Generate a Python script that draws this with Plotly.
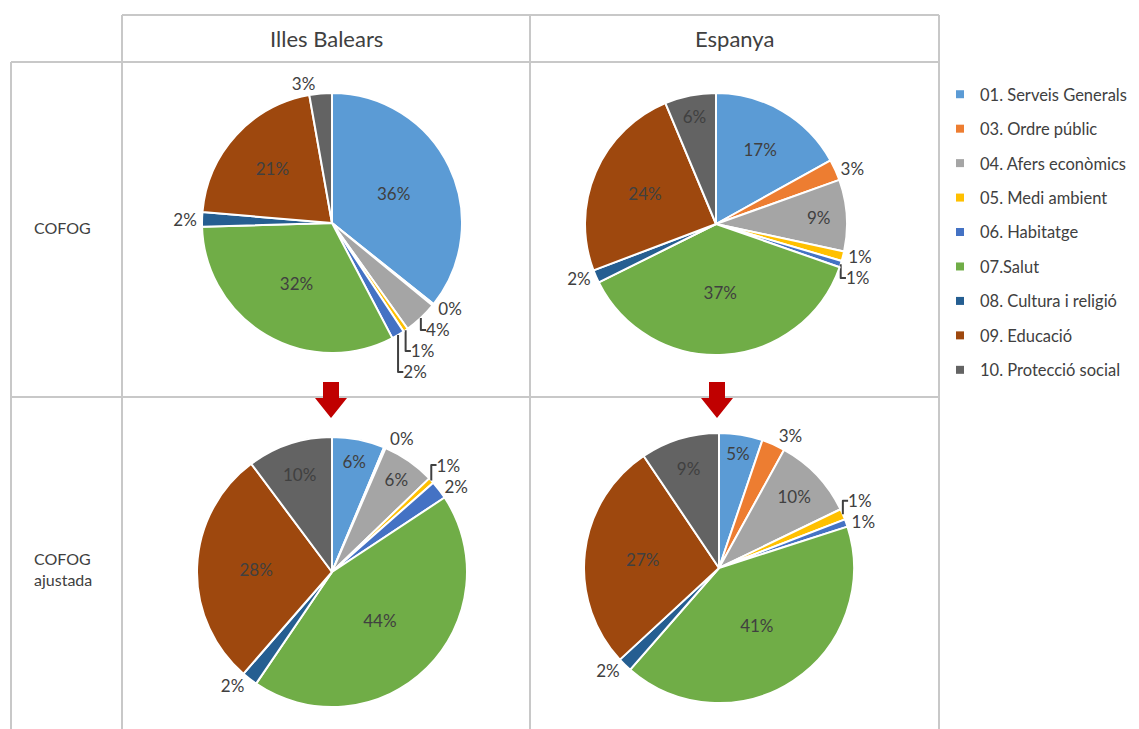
import plotly.graph_objects as go

# the page body adds an 8px margin, so the figure is drawn 8px in
OFF = 8
W, H = 1139 - OFF, 729 - OFF

categories = ["01. Serveis Generals", "03. Ordre públic", "04. Afers econòmics",
              "05. Medi ambient", "06. Habitatge", "07.Salut",
              "08. Cultura i religió", "09. Educació", "10. Protecció social"]
colors = ["#5B9BD5", "#ED7D31", "#A5A5A5", "#FFC000", "#4472C4",
          "#70AD47", "#255E91", "#9E480E", "#636363"]

# shares (%)
ib_cofog = [35.8, 0.2, 4.2, 0.6, 1.6, 32.3, 1.8, 20.9, 2.8]
es_cofog = [16.9, 2.6, 8.8, 1.2, 0.8, 37.2, 1.6, 24.4, 6.3]
ib_ajust = [6.3, 0.2, 6.3, 0.7, 2.2, 43.8, 1.9, 28.4, 10.2]
es_ajust = [5.2, 2.8, 9.8, 1.3, 0.9, 41.3, 1.7, 27.4, 9.4]

columns = ["Illes Balears", "Espanya"]
rows = ["COFOG", "COFOG<br>ajustada"]

I, O = "inside", "outside"
pos_ib_cofog = [I, O, O, O, O, I, O, I, O]
pos_es_cofog = [I, O, I, O, O, I, O, I, I]
pos_ib_ajust = [I, O, I, O, O, I, O, I, I]
pos_es_ajust = [I, O, I, O, O, I, O, I, I]

FONT = "Lato"
TXT = "#404040"
GRID = "#C8C8C8"


def px(x):
    return (x - OFF) / W


def py(y):
    return 1 - (y - OFF) / H


def dom(cx, cy, r):
    return dict(x=[px(cx - r), px(cx + r)], y=[py(cy + r), py(cy - r)])


fig = go.Figure()
pies = [
    (ib_cofog, pos_ib_cofog, dom(332, 223, 130)),
    (es_cofog, pos_es_cofog, dom(716, 224, 131)),
    (ib_ajust, pos_ib_ajust, dom(332, 572, 135)),
    (es_ajust, pos_es_ajust, dom(719, 568, 135)),
]
for vals, tpos, d in pies:
    fig.add_trace(go.Pie(
        labels=categories, values=vals, sort=False, direction="clockwise",
        rotation=0, domain=d, showlegend=False,
        marker=dict(colors=colors, line=dict(color="white", width=2)),
        texttemplate="%{percent:.0%}", textposition=tpos,
        insidetextorientation="horizontal",
        textfont=dict(family=FONT, size=17, color=TXT),
        outsidetextfont=dict(family=FONT, size=17, color=TXT),
        insidetextfont=dict(family=FONT, size=17, color=TXT),
        hoverinfo="label+percent",
    ))

# legend entries, one group each so the rows can be spaced out
for i, (cat, col) in enumerate(zip(categories, colors)):
    fig.add_trace(go.Scatter(
        x=[None], y=[None], mode="markers", name=cat, legendgroup=str(i),
        marker=dict(symbol="square", size=8, color=col),
        showlegend=True, hoverinfo="skip",
    ))

# table grid
shapes = []
def line(x0, y0, x1, y1):
    shapes.append(dict(type="line", xref="paper", yref="paper",
                       x0=px(x0), y0=py(y0), x1=px(x1), y1=py(y1),
                       line=dict(color=GRID, width=2)))

line(122, 15, 939, 15)
line(11, 62, 939, 62)
line(11, 397, 939, 397)
line(11, 62, 11, 729)
line(122, 15, 122, 729)
line(530, 15, 530, 729)
line(939, 15, 939, 729)

# red arrows between the rows
for ax in (331, 717):
    path = "M {} {} L {} {} L {} {} L {} {} L {} {} L {} {} L {} {} Z".format(
        px(ax - 8), py(382), px(ax + 8), py(382), px(ax + 8), py(398),
        px(ax + 16), py(398), px(ax), py(418), px(ax - 16), py(398),
        px(ax - 8), py(398))
    shapes.append(dict(type="path", xref="paper", yref="paper", path=path,
                       fillcolor="#C00000", line=dict(width=0)))

annotations = []
for name, cx in zip(columns, (326, 734)):
    annotations.append(dict(text=name, x=px(cx), y=py(39), xref="paper",
                            yref="paper", showarrow=False,
                            xanchor="center", yanchor="middle",
                            font=dict(family=FONT, size=22, color=TXT)))
for name, cy in zip(rows, (228, 569)):
    annotations.append(dict(text=name, x=px(32), y=py(cy), xref="paper",
                            yref="paper", showarrow=False, xanchor="left",
                            yanchor="middle", align="left",
                            font=dict(family=FONT, size=16, color=TXT)))

fig.update_layout(
    width=W, height=H,
    margin=dict(l=0, r=0, t=0, b=0),
    paper_bgcolor="white", plot_bgcolor="white",
    xaxis=dict(visible=False), yaxis=dict(visible=False),
    shapes=shapes, annotations=annotations,
    legend=dict(x=px(940), y=py(77), xanchor="left", yanchor="top",
                font=dict(family=FONT, size=16.5, color=TXT),
                traceorder="grouped", tracegroupgap=10, itemclick=False,
                bgcolor="rgba(0,0,0,0)"),
)

fig.write_html("out.html")
